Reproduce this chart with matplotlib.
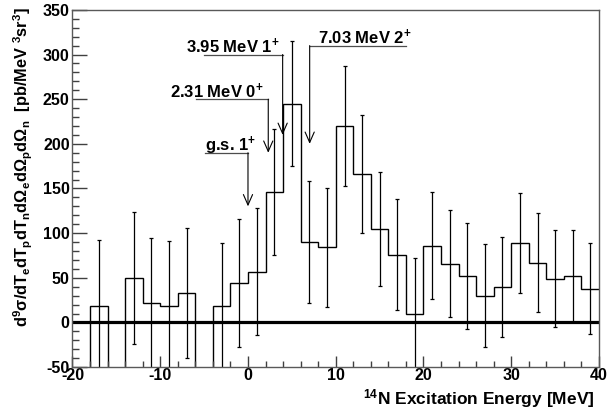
import matplotlib
matplotlib.use("Agg")
import matplotlib.pyplot as plt
import numpy as np
from matplotlib.ticker import MultipleLocator

plt.rcParams["font.family"] = ["Liberation Sans", "DejaVu Sans"]
plt.rcParams["font.weight"] = "bold"
plt.rcParams["axes.unicode_minus"] = False
plt.rcParams["mathtext.fontset"] = "custom"
plt.rcParams["mathtext.rm"] = "Liberation Sans:bold"
plt.rcParams["mathtext.it"] = "Liberation Sans:bold"
plt.rcParams["mathtext.bf"] = "Liberation Sans:bold"
plt.rcParams["mathtext.default"] = "rm"

# 2 MeV bins from -20 to 40 MeV
bin_edges = np.arange(-20, 42, 2)
cross_section = [-150, 18, -150, 50, 22, 18, 33, -150, 18, 44,
                 57, 146, 245, 90, 84, 220, 166, 105, 76, 10,
                 86, 66, 52, 30, 40, 89, 67, 49, 52, 38]
cross_section_err = [70, 74, 70, 74, 73, 73, 73, 71, 71, 72,
                     71, 71, 70, 68, 67, 67, 66, 64, 62, 62,
                     60, 60, 59, 58, 56, 56, 55, 54, 52, 51]

level_names = ["g.s. 1$^{+}$", "2.31 MeV 0$^{+}$", "3.95 MeV 1$^{+}$", "7.03 MeV 2$^{+}$"]
level_energies = [0.0, 2.31, 3.95, 7.03]

# annotation layout (data coords)
label_y = [190, 250, 300, 310]
label_x = [-4.9, -8.9, -7.07, 7.94]
line_end = [-4.9, -5.96, -5.0, 17.97]
arrow_tip = [130, 190, 210, 200]

YMIN, YMAX = -50, 350

fig = plt.figure(figsize=(6.09, 4.12), dpi=100)
ax = fig.add_axes([0.119, 0.109, 0.8646, 0.867])

vals = np.array(cross_section, dtype=float)
errs = np.array(cross_section_err, dtype=float)
centers = 0.5 * (bin_edges[:-1] + bin_edges[1:])

ax.stairs(vals, bin_edges, baseline=None, color="black", lw=1.0)
shown = vals > YMIN
ax.errorbar(centers[shown], vals[shown], yerr=errs[shown], fmt="none",
            ecolor="black", elinewidth=0.9, capsize=1.3, capthick=0.9)

ax.axhline(0, color="black", lw=2.3)

for name, e, y, tx, x0, tip in zip(level_names, level_energies, label_y,
                                    label_x, line_end, arrow_tip):
    ax.plot([x0, e], [y, y], color="0.3", lw=0.9)
    ax.annotate("", xy=(e, tip), xytext=(e, y),
                arrowprops=dict(arrowstyle="->,head_length=0.75,head_width=0.33",
                                color="black", lw=0.8, shrinkA=0, shrinkB=0,
                                mutation_scale=10))
    ax.text(tx, y + 1.5, name, fontsize=12, fontweight="bold",
            va="baseline", ha="left")

ax.set_xlim(-20, 40)
ax.set_ylim(YMIN, YMAX)
ax.xaxis.set_major_locator(MultipleLocator(10))
ax.xaxis.set_minor_locator(MultipleLocator(2))
ax.yaxis.set_major_locator(MultipleLocator(50))
ax.yaxis.set_minor_locator(MultipleLocator(10))
ax.tick_params(axis="both", which="both", direction="in", top=False, right=False,
               color="0.25", width=1.0, labelsize=11.5)
ax.tick_params(axis="y", which="major", length=11, pad=2)
ax.tick_params(axis="y", which="minor", length=5.3)
ax.tick_params(axis="x", which="major", length=8, pad=1)
ax.tick_params(axis="x", which="minor", length=4)
for lab in ax.get_xticklabels() + ax.get_yticklabels():
    lab.set_fontweight("bold")
for sp in ax.spines.values():
    sp.set_color("0.35")
    sp.set_linewidth(1.0)

ax.set_xlabel("$^{14}$N Excitation Energy [MeV]", fontsize=12.5,
              fontweight="bold", loc="right")
ax.xaxis.set_label_coords(0.9905, -0.056)
ax.set_ylabel(r"$d^{9}\sigma/dT_{e}dT_{p}dT_{n}d\Omega_{e}d\Omega_{p}d\Omega_{n}$  [pb/MeV $^{3}$sr$^{3}$]",
              fontsize=11.8, fontweight="bold", loc="top")
ax.yaxis.set_label_coords(-0.071, 1.008)

fig.savefig("out.png", dpi=100)
